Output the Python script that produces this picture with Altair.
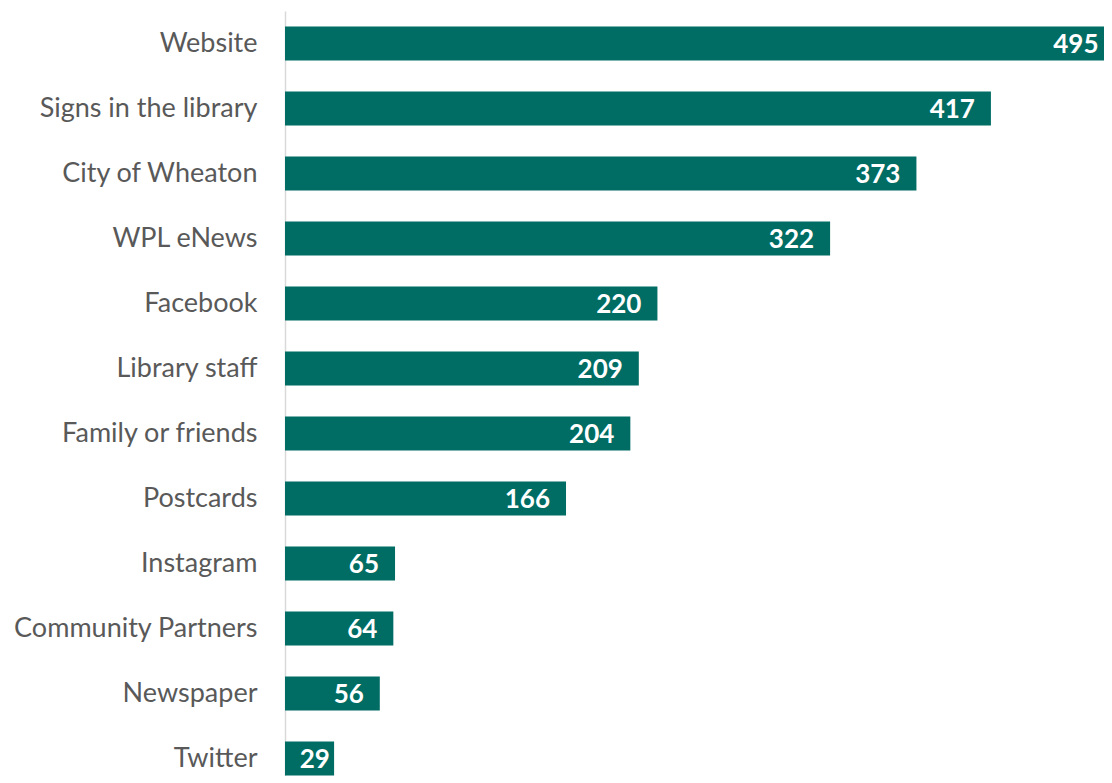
import altair as alt
import pandas as pd

categories = ["Website", "Signs in the library", "City of Wheaton", "WPL eNews",
              "Facebook", "Library staff", "Family or friends", "Postcards",
              "Instagram", "Community Partners", "Newspaper", "Twitter"]
values = [495, 417, 373, 322, 220, 209, 204, 166, 65, 64, 56, 29]

df = pd.DataFrame({"source": categories, "count": values})

FONT = "Lato"
BAR = "#006d64"
X_MAX = 483.8  # visible part of the value axis

y_enc = alt.Y("source:N", sort=categories, title=None,
              scale=alt.Scale(range=[0, 780], paddingInner=0.48, paddingOuter=0.24),
              axis=alt.Axis(labelFont=FONT, labelFontSize=27, labelColor="#595959",
                            labelPadding=28, ticks=False, domainColor="#d9d9d9",
                            domainWidth=1.5, labelLimit=400))
x_scale = alt.Scale(domain=[0, X_MAX], nice=False)

bars = alt.Chart(df).mark_bar(color=BAR, clip=True).encode(
    x=alt.X("count:Q", title=None, scale=x_scale, axis=None), y=y_enc)
labels = alt.Chart(df).transform_calculate(
    lab="max(min(datum.count, 490), 36)"
).mark_text(align="right", baseline="middle", dx=-16, dy=1,
            color="white", font=FONT, fontSize=26, fontWeight="bold").encode(
    x=alt.X("lab:Q", title=None, scale=x_scale, axis=None), y=y_enc, text="count:Q")

chart = (bars + labels).properties(
    width=819, height=765,
    autosize=alt.AutoSizeParams(type="none"),
    padding={"left": 277, "top": 3, "right": 0, "bottom": 0},
).configure_view(stroke=None)

chart.save("out.html", embed_options={"renderer": "svg", "actions": False})
